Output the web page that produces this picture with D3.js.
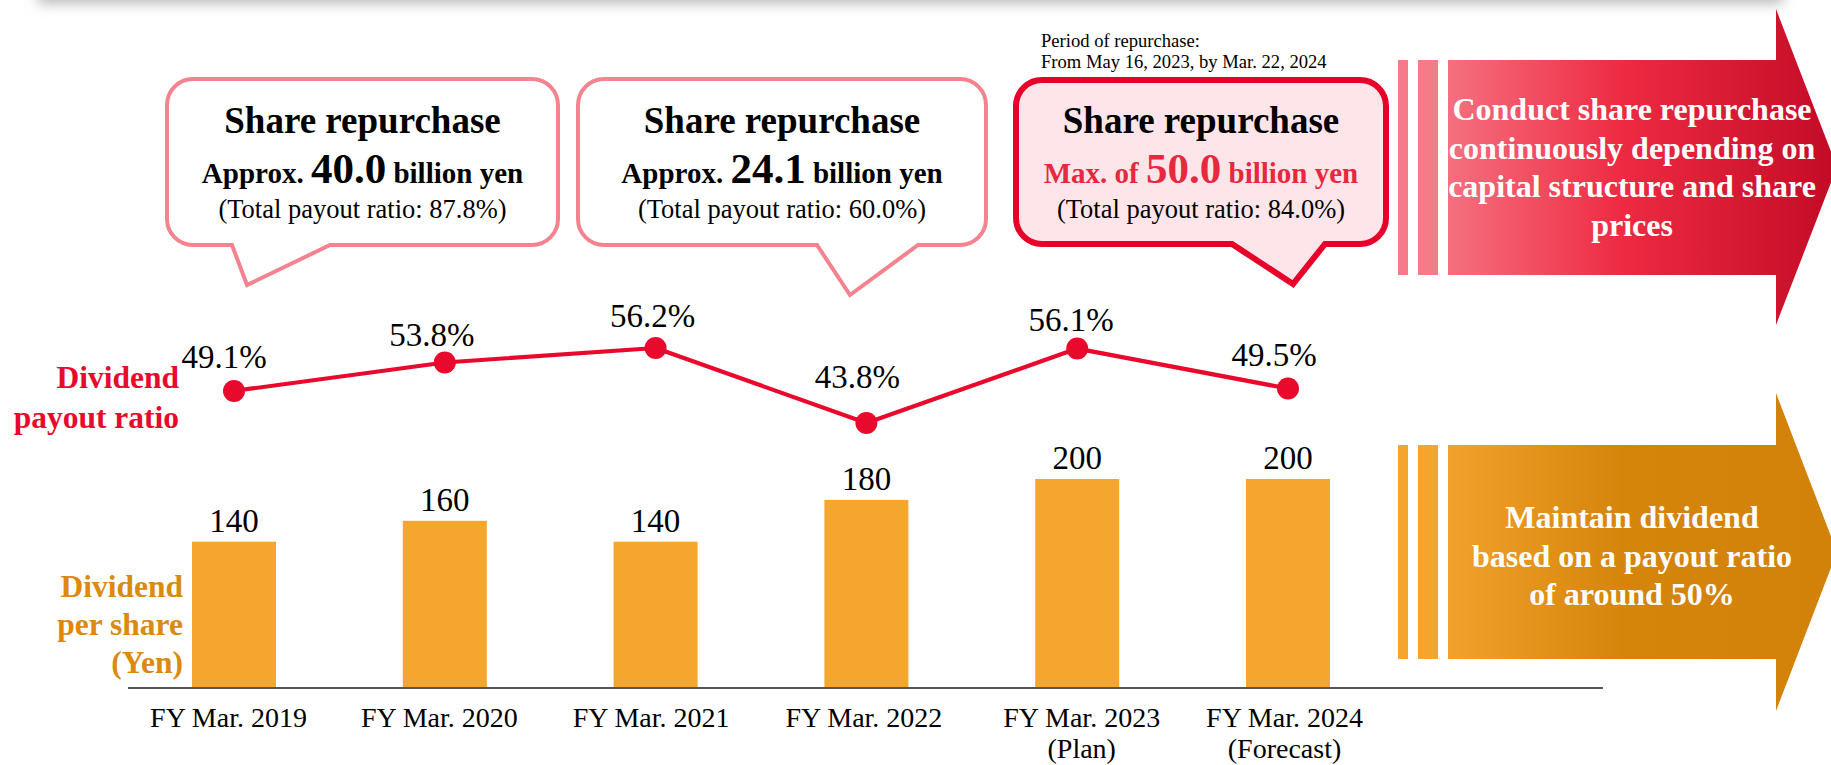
<!DOCTYPE html>
<html>
<head>
<meta charset="utf-8">
<script src="https://cdn.jsdelivr.net/npm/d3@7"></script>
<style>
  html, body { margin: 0; padding: 0; background: #ffffff; }
  svg { display: block; }
  text { font-family: "Liberation Serif", "Times New Roman", serif; white-space: pre; }
</style>
</head>
<body>
<svg id="chart" width="1831" height="765"></svg>
<script>
// ---- data ----
const categories = ["FY Mar. 2019", "FY Mar. 2020", "FY Mar. 2021", "FY Mar. 2022", "FY Mar. 2023", "FY Mar. 2024"];
const categoryNotes = ["", "", "", "", "(Plan)", "(Forecast)"];
const dividendPerShare = [140, 160, 140, 180, 200, 200];
const payoutRatio = [49.1, 53.8, 56.2, 43.8, 56.1, 49.5];

const buybackLead = ["Approx.", "Approx.", "Max. of"];
const buybackAmount = [40.0, 24.1, 50.0];
const totalPayoutRatio = [87.8, 60.0, 84.0];
const periodNote = ["Period of repurchase:", "From May 16, 2023, by Mar. 22, 2024"];

const repurchasePolicy = ["Conduct share repurchase", "continuously depending on", "capital structure and share", "prices"];
const dividendPolicy = ["Maintain dividend", "based on a payout ratio", "of around 50%"];

// ---- colours ----
const RED = "#e8092d";
const PINK = "#f4838f";
const BAR = "#f5a62f";
const ORANGE_TXT = "#db8a0e";

const svg = d3.select("#chart");
const defs = svg.append("defs");

// soft shadow of the panel above
defs.append("filter").attr("id", "blur").attr("x", "-10%").attr("y", "-300%").attr("width", "120%").attr("height", "700%")
  .append("feGaussianBlur").attr("stdDeviation", 7);
svg.append("rect").attr("x", 38).attr("y", -60).attr("width", 1745).attr("height", 63)
  .attr("fill", "#b4b4b4").attr("filter", "url(#blur)");

// ---- scales ----
const axisY = 688;
const x = d3.scalePoint().domain(categories).range([234, 1288]);
const yBar = d3.scaleLinear().domain([0, 200]).range([axisY, axisY - 209]);
const yRatio = d3.scaleLinear().domain([0, 100]).range([axisY, axisY - 605]);
const barW = 84;

// ---- bars ----
const barData = categories.map((c, i) => ({ c, v: dividendPerShare[i] }));
svg.append("g").selectAll("rect").data(barData).join("rect")
  .attr("x", d => x(d.c) - barW / 2)
  .attr("y", d => yBar(d.v))
  .attr("width", barW)
  .attr("height", d => yBar(0) - yBar(d.v))
  .attr("fill", BAR);

svg.append("g").selectAll("text").data(barData).join("text")
  .attr("x", d => x(d.c))
  .attr("y", d => yBar(d.v) - 10)
  .attr("text-anchor", "middle")
  .attr("font-size", 33)
  .attr("fill", "#000")
  .text(d => d.v);

// ---- baseline axis ----
svg.append("line").attr("x1", 128).attr("x2", 1603).attr("y1", axisY).attr("y2", axisY)
  .attr("stroke", "#555").attr("stroke-width", 2.2);

// small horizontal shifts of the category captions
const tickShift = [-6, -6, -5, -3, 4, -4];
const xAxis = svg.append("g").attr("transform", `translate(0,${axisY})`)
  .call(d3.axisBottom(x).tickSize(0).tickFormat(""));
xAxis.select(".domain").remove();
xAxis.selectAll(".tick").each(function (d, i) {
  const t = d3.select(this).append("text")
    .attr("text-anchor", "middle").attr("fill", "#000").attr("font-size", 28)
    .attr("y", 39);
  t.append("tspan").attr("x", tickShift[i]).text(d);
  if (categoryNotes[i]) t.append("tspan").attr("x", tickShift[i]).attr("dy", 31).text(categoryNotes[i]);
});

// ---- payout ratio line ----
const ratioData = categories.map((c, i) => ({ c, v: payoutRatio[i] }));
svg.append("path").datum(ratioData)
  .attr("fill", "none").attr("stroke", RED).attr("stroke-width", 4.2).attr("stroke-linejoin", "round")
  .attr("d", d3.line().x(d => x(d.c)).y(d => yRatio(d.v)));
svg.append("g").selectAll("circle").data(ratioData).join("circle")
  .attr("cx", d => x(d.c)).attr("cy", d => yRatio(d.v)).attr("r", 11).attr("fill", RED);

// label placement around each point
const ratioLabelShift = [[-10, -23], [-13, -17], [-3, -21], [-9, -35], [-6, -18], [-14, -23]];
svg.append("g").selectAll("text").data(ratioData).join("text")
  .attr("x", (d, i) => x(d.c) + ratioLabelShift[i][0])
  .attr("y", (d, i) => yRatio(d.v) + ratioLabelShift[i][1])
  .attr("text-anchor", "middle").attr("font-size", 33).attr("fill", "#000")
  .text(d => d3.format(".1f")(d.v) + "%");

// ---- series titles on the left ----
const leftRed = svg.append("text").attr("text-anchor", "end").attr("font-size", 31.5)
  .attr("font-weight", "bold").attr("fill", RED);
leftRed.append("tspan").attr("x", 179).attr("y", 388).text("Dividend");
leftRed.append("tspan").attr("x", 179).attr("y", 428).text("payout ratio");

const leftOrange = svg.append("text").attr("text-anchor", "end").attr("font-size", 31.5)
  .attr("font-weight", "bold").attr("fill", ORANGE_TXT);
leftOrange.append("tspan").attr("x", 183).attr("y", 597).text("Dividend");
leftOrange.append("tspan").attr("x", 183).attr("y", 635).text("per share");
leftOrange.append("tspan").attr("x", 183).attr("y", 673).text("(Yen)");

// ---- share repurchase callouts ----
const bubbleLayout = [
  { x0: 167, x1: 558, y0: 79, y1: 245, tl: 232, tr: 330, tipX: 247, tipY: 285, stroke: PINK, sw: 4, fill: "#fff", accent: "#000" },
  { x0: 578, x1: 986, y0: 79, y1: 245, tl: 817, tr: 918, tipX: 850, tipY: 295, stroke: PINK, sw: 4, fill: "#fff", accent: "#000" },
  { x0: 1016, x1: 1386, y0: 80, y1: 244, tl: 1232, tr: 1325, tipX: 1293, tipY: 284, stroke: "#e6002a", sw: 6, fill: "#fde5ea", accent: "#e8283f" }
];

function bubblePath(b) {
  const r = 26;
  const p = d3.path();
  p.moveTo(b.x0 + r, b.y0);
  p.lineTo(b.x1 - r, b.y0);
  p.arcTo(b.x1, b.y0, b.x1, b.y0 + r, r);
  p.lineTo(b.x1, b.y1 - r);
  p.arcTo(b.x1, b.y1, b.x1 - r, b.y1, r);
  p.lineTo(b.tr, b.y1);
  p.lineTo(b.tipX, b.tipY);
  p.lineTo(b.tl, b.y1);
  p.lineTo(b.x0 + r, b.y1);
  p.arcTo(b.x0, b.y1, b.x0, b.y1 - r, r);
  p.lineTo(b.x0, b.y0 + r);
  p.arcTo(b.x0, b.y0, b.x0 + r, b.y0, r);
  p.closePath();
  return p.toString();
}

bubbleLayout.forEach((b, i) => {
  const g = svg.append("g");
  g.append("path").attr("d", bubblePath(b)).attr("fill", b.fill)
    .attr("stroke", b.stroke).attr("stroke-width", b.sw).attr("stroke-linejoin", "miter");
  const cx = (b.x0 + b.x1) / 2;
  g.append("text").attr("x", cx).attr("y", 133).attr("text-anchor", "middle")
    .attr("font-size", 37).attr("font-weight", "bold").attr("fill", "#000").text("Share repurchase");
  const l2 = g.append("text").attr("x", cx).attr("y", 183).attr("text-anchor", "middle")
    .attr("font-weight", "bold").attr("fill", b.accent);
  l2.append("tspan").attr("font-size", 29).text(buybackLead[i] + " ");
  l2.append("tspan").attr("font-size", 43).text(d3.format(".1f")(buybackAmount[i]));
  l2.append("tspan").attr("font-size", 29).text(" billion yen");
  g.append("text").attr("x", cx).attr("y", 218).attr("text-anchor", "middle")
    .attr("font-size", 26.5).attr("fill", "#000")
    .text(`(Total payout ratio: ${d3.format(".1f")(totalPayoutRatio[i])}%)`);
});

const period = svg.append("text").attr("font-size", 18.6).attr("fill", "#000");
period.append("tspan").attr("x", 1041).attr("y", 47).text(periodNote[0]);
period.append("tspan").attr("x", 1041).attr("y", 68).text(periodNote[1]);

// ---- policy arrows on the right ----
function addGradient(id, stops) {
  const gr = defs.append("linearGradient").attr("id", id).attr("gradientUnits", "userSpaceOnUse")
    .attr("x1", 1448).attr("x2", 1836).attr("y1", 0).attr("y2", 0);
  stops.forEach(s => gr.append("stop").attr("offset", s[0]).attr("stop-color", s[1]));
}
addGradient("redGrad", [[0, "#f5707f"], [0.45, "#ee2a42"], [1, "#c30b26"]]);
addGradient("orangeGrad", [[0, "#f2a12c"], [0.45, "#d5850a"], [1, "#d28209"]]);

function arrow(a) {
  const g = svg.append("g");
  g.append("rect").attr("x", 1398).attr("y", a.top).attr("width", 10).attr("height", a.bottom - a.top).attr("fill", a.stripe);
  g.append("rect").attr("x", 1418).attr("y", a.top).attr("width", 20).attr("height", a.bottom - a.top).attr("fill", a.stripe);
  const pts = [[1448, a.top], [1776, a.top], [1776, a.headTop], [1837, (a.headTop + a.headBottom) / 2],
               [1776, a.headBottom], [1776, a.bottom], [1448, a.bottom]];
  g.append("path").attr("d", d3.line()(pts) + "Z").attr("fill", a.fill);
  const t = g.append("text").attr("text-anchor", "middle").attr("font-size", 32)
    .attr("font-weight", "bold").attr("fill", "#fff");
  a.lines.forEach((s, i) => t.append("tspan").attr("x", 1632).attr("y", a.firstY + i * 38.5).text(s));
}
arrow({ top: 60, bottom: 275, headTop: 9, headBottom: 325, stripe: "#f47c89", fill: "url(#redGrad)", lines: repurchasePolicy, firstY: 120 });
arrow({ top: 445, bottom: 659, headTop: 393, headBottom: 711, stripe: "#f4a52e", fill: "url(#orangeGrad)", lines: dividendPolicy, firstY: 528 });
</script>
</body>
</html>
